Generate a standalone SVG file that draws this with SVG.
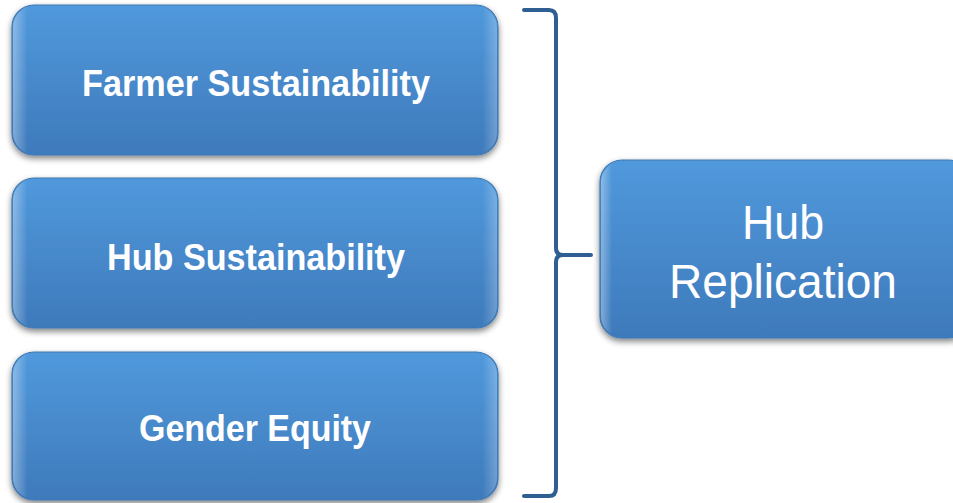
<svg xmlns="http://www.w3.org/2000/svg" width="953" height="503" viewBox="0 0 953 503">
<defs>
<linearGradient id="g" x1="0" y1="0" x2="0" y2="1">
<stop offset="0" stop-color="#5099dc"/>
<stop offset="1" stop-color="#3e7abb"/>
</linearGradient>
<linearGradient id="hl" x1="0" y1="0" x2="1" y2="0">
<stop offset="0" stop-color="#ffffff" stop-opacity="0.35"/>
<stop offset="0.03" stop-color="#ffffff" stop-opacity="0"/>
<stop offset="0.97" stop-color="#ffffff" stop-opacity="0"/>
<stop offset="1" stop-color="#ffffff" stop-opacity="0.25"/>
</linearGradient>
<filter id="sh" x="-10%" y="-10%" width="120%" height="130%">
<feGaussianBlur in="SourceAlpha" stdDeviation="3"/>
<feOffset dx="0" dy="3" result="b"/>
<feComponentTransfer><feFuncA type="linear" slope="0.5"/></feComponentTransfer>
<feMerge><feMergeNode/><feMergeNode in="SourceGraphic"/></feMerge>
</filter>
</defs>
<style>
.box{fill:url(#g);stroke:#3f78b2;stroke-width:1.2;filter:url(#sh)}
.hl{fill:url(#hl);stroke:none}
.t{font-family:"Liberation Sans",Arial,sans-serif;fill:#ffffff;text-anchor:middle}
.b{font-weight:bold;font-size:36px}
.r{font-size:48px}
.br{fill:none;stroke:#2f5f92;stroke-width:4;stroke-linecap:round;stroke-linejoin:round}
</style>
<g id="farmer">
<rect class="box" x="12" y="5" width="486" height="150" rx="22"/>
<rect class="hl" x="13" y="6" width="484" height="148" rx="21"/>
<text class="t b" x="256" y="96" textLength="348" lengthAdjust="spacingAndGlyphs">Farmer Sustainability</text>
</g>
<g id="hub">
<rect class="box" x="12" y="178" width="486" height="150" rx="22"/>
<rect class="hl" x="13" y="179" width="484" height="148" rx="21"/>
<text class="t b" x="256" y="270" textLength="298" lengthAdjust="spacingAndGlyphs">Hub Sustainability</text>
</g>
<g id="gender">
<rect class="box" x="12" y="352" width="486" height="148" rx="22"/>
<rect class="hl" x="13" y="353" width="484" height="146" rx="21"/>
<text class="t b" x="255" y="441" textLength="232" lengthAdjust="spacingAndGlyphs">Gender Equity</text>
</g>
<g id="replication">
<rect class="box" x="600" y="160" width="370" height="178" rx="22"/>
<rect class="hl" x="601" y="161" width="368" height="176" rx="21"/>
<text class="t r" x="783" y="239" textLength="82" lengthAdjust="spacingAndGlyphs">Hub</text>
<text class="t r" x="783" y="298" textLength="228" lengthAdjust="spacingAndGlyphs">Replication</text>
</g>
<g id="connectors">
<path class="br" d="M524,10 L549,10 Q556,10 556,18 L556,248 Q556,255 563,255 L591,255 M563,255 Q556,255 556,262 L556,488 Q556,496 549,496 L524,496"/>
</g>
</svg>
